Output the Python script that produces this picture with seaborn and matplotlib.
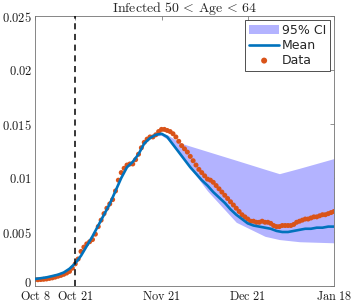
import numpy as np
import pandas as pd
import matplotlib
matplotlib.use("Agg")
import matplotlib.pyplot as plt
import matplotlib.transforms as mtransforms
import seaborn as sns

# ---- data ----
data_days = list(range(0, 105))
data_vals = [0.00060, 0.00058, 0.00060, 0.00062, 0.00065, 0.00070, 0.00075, 0.00082, 0.00090, 0.00098,
             0.00108, 0.00120, 0.00135, 0.00165, 0.00205, 0.00250, 0.00320, 0.00360, 0.00390, 0.00410,
             0.00430, 0.00480, 0.00550, 0.00610, 0.00670, 0.00720, 0.00760, 0.00800, 0.00880, 0.00980,
             0.01050, 0.01090, 0.01120, 0.01130, 0.01130, 0.01170, 0.01220, 0.01280, 0.01330, 0.01360,
             0.01380, 0.01380, 0.01400, 0.01430, 0.01450, 0.01450, 0.01440, 0.01430, 0.01410, 0.01380,
             0.01340, 0.01300, 0.01270, 0.01240, 0.01200, 0.01160, 0.01120, 0.01080, 0.01050, 0.01020,
             0.00990, 0.00980, 0.00960, 0.00930, 0.00900, 0.00870, 0.00840, 0.00810, 0.00780, 0.00750,
             0.00720, 0.00690, 0.00660, 0.00640, 0.00620, 0.00600, 0.00600, 0.00590, 0.00590, 0.00600,
             0.00590, 0.00590, 0.00580, 0.00560, 0.00550, 0.00550, 0.00560, 0.00560, 0.00560, 0.00560,
             0.00570, 0.00590, 0.00600, 0.00610, 0.00620, 0.00620, 0.00630, 0.00640, 0.00640, 0.00650,
             0.00660, 0.00660, 0.00670, 0.00680, 0.00690]

mean_days = list(range(0, 105, 2))
mean_vals = [0.00065, 0.00072, 0.00080, 0.00092, 0.00105, 0.00125, 0.00160, 0.00210, 0.00280, 0.00370,
             0.00460, 0.00560, 0.00660, 0.00760, 0.00880, 0.01000, 0.01100, 0.01150, 0.01220, 0.01320,
             0.01370, 0.01400, 0.01410, 0.01380, 0.01310, 0.01240, 0.01170, 0.01100, 0.01040, 0.00980,
             0.00930, 0.00870, 0.00820, 0.00770, 0.00710, 0.00660, 0.00620, 0.00580, 0.00560, 0.00550,
             0.00540, 0.00530, 0.00510, 0.00500, 0.00500, 0.00510, 0.00520, 0.00530, 0.00530, 0.00540,
             0.00540, 0.00550, 0.00550]

band_days = [42, 44, 46, 51, 60, 70, 80, 85, 92, 104]
band_lo = [0.01390, 0.01395, 0.01360, 0.01200, 0.00880, 0.00590, 0.00460, 0.00430, 0.00410, 0.00400]
band_hi = [0.01410, 0.01420, 0.01400, 0.01320, 0.01246, 0.01164, 0.01081, 0.01040, 0.01090, 0.01180]

tick_days = [0, 14, 44, 74, 104]
tick_labels = ["Oct 8", "Oct 21", "Nov 21", "Dec 21", "Jan 18"]
ytick_vals = [0, 0.005, 0.01, 0.015, 0.02, 0.025]
ytick_labels = ["0", "0.005", "0.01", "0.015", "0.02", "0.025"]
intervention_day = 14

# ---- style ----
sns.set_theme(style="white")
plt.rcParams["font.family"] = ["DejaVu Sans"]
plt.rcParams["mathtext.fontset"] = "cm"

fig = plt.figure(figsize=(3.54, 3.03), dpi=100)
ax = fig.add_axes([35 / 354, 17 / 303, 299 / 354, 270 / 303])

col_ci = "#b3b3ff"
col_mean = "#0072bd"
col_data = "#d95319"

ax.fill_between(band_days, band_lo, band_hi, color=col_ci, lw=0, label="95% CI", zorder=1)
sns.lineplot(x=mean_days, y=mean_vals, ax=ax, color=col_mean, lw=1.9, label="Mean", zorder=3)
sns.scatterplot(x=data_days, y=data_vals, ax=ax, color=col_data, s=13, edgecolor="none",
                label="Data", zorder=2)
ax.axvline(intervention_day, color="black", ls=(0, (4, 3)), lw=1.1, zorder=4)

ax.set_xlim(0, 104)
ax.set_ylim(0, 0.025)
ax.set_xticks(tick_days)
ax.set_xticklabels([r"$\mathrm{" + t.replace(" ", r"\ ") + "}$" for t in tick_labels], fontsize=8.8)
ax.set_yticks(ytick_vals)
ax.set_yticklabels(["$" + t + "$" for t in ytick_labels], fontsize=9)
ax.tick_params(direction="in", length=3, width=0.5, color="0.4", top=True, right=True, pad=2,
               labelcolor="0.1")
ax.tick_params(axis="x", pad=3)
# lift the "0" y label slightly so it does not touch the first date label
lbl0 = ax.get_yticklabels()[0]
lbl0.set_transform(lbl0.get_transform() + mtransforms.ScaledTranslation(0, 4 / 100, fig.dpi_scale_trans))
for s in ax.spines.values():
    s.set_color("0.45")
    s.set_linewidth(0.6)
ax.set_xlabel("")
ax.set_ylabel("")
ax.set_title(r"$\mathrm{Infected}\ 50\, <\, \mathrm{Age}\, <\, 64$", fontsize=10, pad=3)

leg = ax.legend(loc="upper right", fontsize=9, frameon=True, fancybox=False, framealpha=1,
                edgecolor="0.2", borderpad=0.3, labelspacing=0.15, handlelength=2.4,
                handletextpad=0.2, borderaxespad=0.35, markerscale=1.2)
leg.get_frame().set_linewidth(0.6)

fig.savefig("out.png", dpi=100)
